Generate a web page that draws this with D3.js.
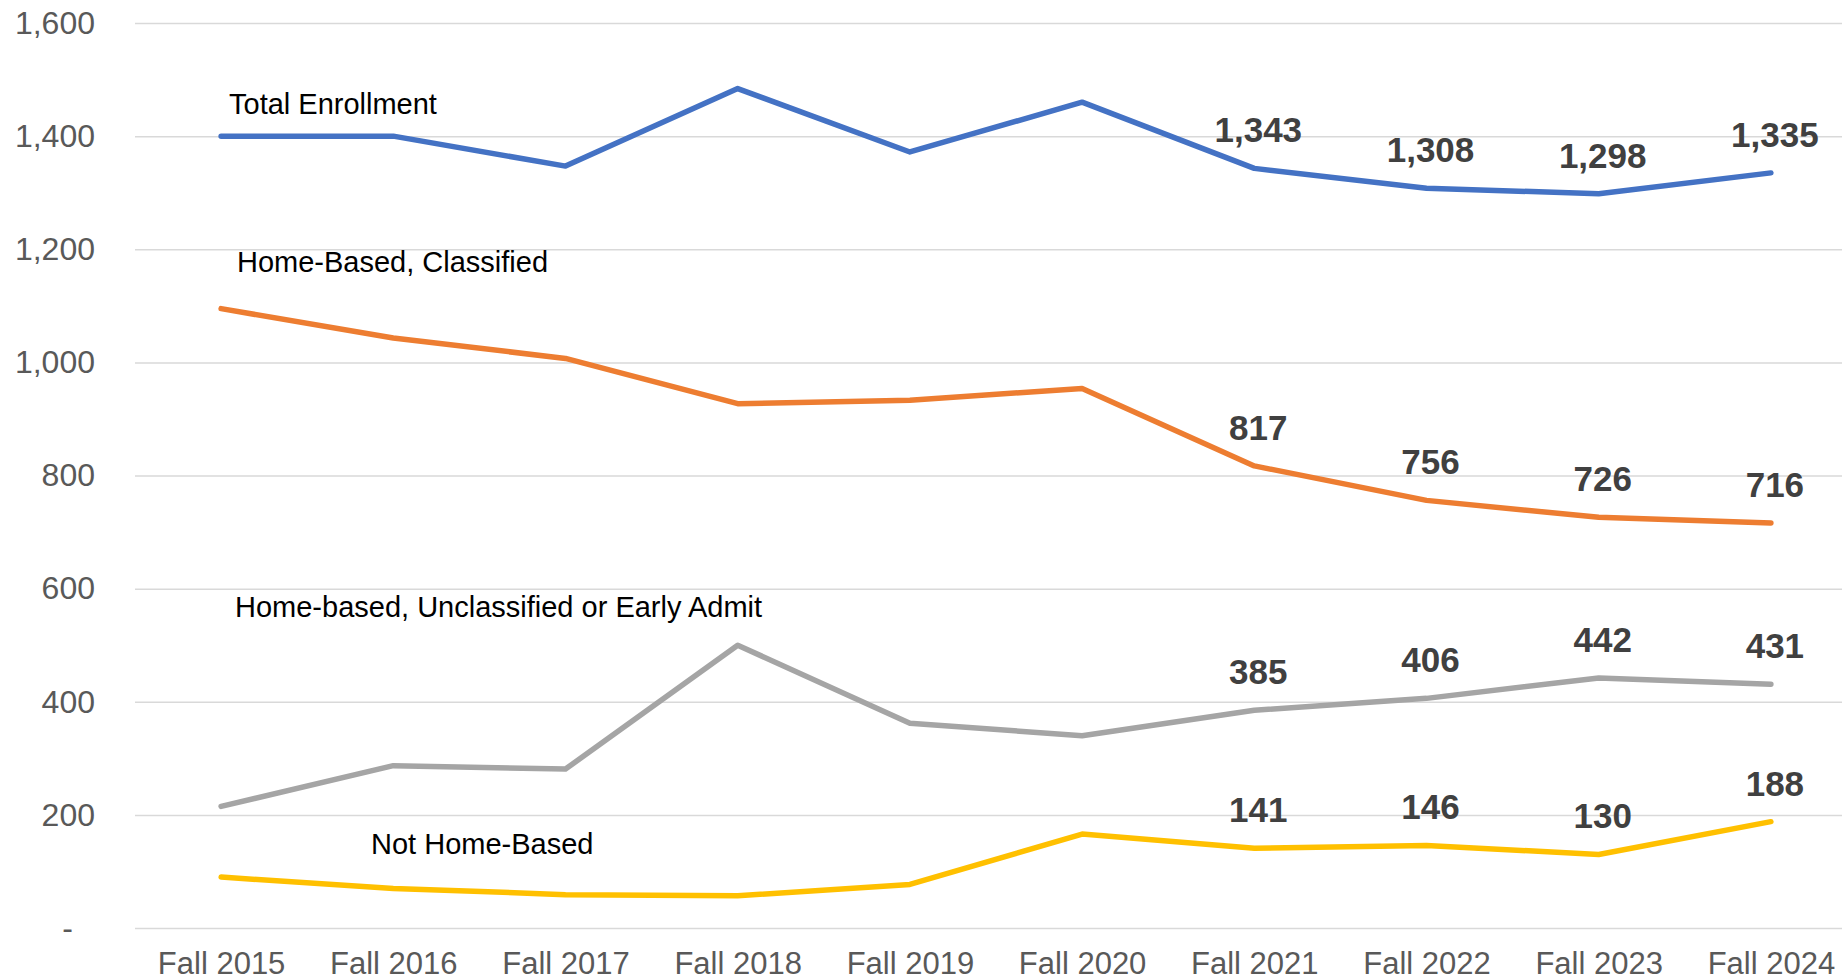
<!DOCTYPE html>
<html>
<head>
<meta charset="utf-8">
<script src="https://cdn.jsdelivr.net/npm/d3@7"></script>
<style>
  body { margin: 0; background: #fff; }
  svg { display: block; font-family: "Liberation Sans", Arial, sans-serif; }
</style>
</head>
<body>
<div id="chart"></div>
<script>
var W = 1842, H = 980;

// data
var years = ["Fall 2015", "Fall 2016", "Fall 2017", "Fall 2018", "Fall 2019",
             "Fall 2020", "Fall 2021", "Fall 2022", "Fall 2023", "Fall 2024"];
var totalEnrollment = [1400, 1400, 1347, 1484, 1372, 1460, 1343, 1308, 1298, 1335];
var homeClassified  = [1095, 1043, 1007, 927, 933, 954, 817, 756, 726, 716];
var homeUnclassified = [215, 287, 281, 500, 362, 340, 385, 406, 442, 431];
var notHomeBased    = [90, 70, 59, 57, 77, 166, 141, 146, 130, 188];
var seriesNames = ["Total Enrollment", "Home-Based, Classified",
                   "Home-based, Unclassified or Early Admit", "Not Home-Based"];
var yTicks = [0, 200, 400, 600, 800, 1000, 1200, 1400, 1600];
var labelFrom = 6; // data labels only shown from Fall 2021 on

var colors = ["#4472C4", "#ED7D31", "#A5A5A5", "#FFC000"];
var allSeries = [totalEnrollment, homeClassified, homeUnclassified, notHomeBased];

var margin = {top: 23, left: 135, bottom: 52};
var svg = d3.select("#chart").append("svg")
    .attr("width", W)
    .attr("height", H);

var x = d3.scalePoint()
    .domain(years)
    .range([margin.left, 1857])
    .padding(0.5);

var y = d3.scaleLinear()
    .domain([0, 1600])
    .range([H - margin.bottom, margin.top]);

var fmt = d3.format(",");

// gridlines + y labels
var yAxis = svg.append("g")
    .attr("transform", "translate(" + margin.left + ",0)")
    .call(d3.axisLeft(y)
        .tickValues(yTicks)
        .tickSize(-(W - margin.left + 20))
        .tickPadding(40)
        .tickFormat(function(d) { return d === 0 ? "-" : fmt(d); }));
yAxis.select(".domain").remove();
yAxis.selectAll("line")
    .attr("stroke", "#D9D9D9")
    .attr("stroke-width", 1.5);
yAxis.selectAll("text")
    .attr("fill", "#595959")
    .style("font-size", "32px")
    .attr("dx", function(d) { return d === 0 ? -22 : 0; });

// x labels
var xAxis = svg.append("g")
    .attr("transform", "translate(0," + (H - margin.bottom) + ")")
    .call(d3.axisBottom(x).tickSize(0).tickPadding(24));
xAxis.select(".domain").remove();
xAxis.selectAll("text")
    .attr("fill", "#595959")
    .style("font-size", "31px");

// lines
var line = d3.line()
    .x(function(d, i) { return x(years[i]); })
    .y(function(d) { return y(d); });

svg.selectAll(".series")
    .data(allSeries)
    .enter()
    .append("path")
      .attr("class", "series")
      .attr("d", line)
      .attr("fill", "none")
      .attr("stroke", function(d, i) { return colors[i]; })
      .attr("stroke-width", 5.5)
      .attr("stroke-linejoin", "round")
      .attr("stroke-linecap", "round");

// data labels
allSeries.forEach(function(vals) {
  svg.selectAll(null)
    .data(vals.slice(labelFrom))
    .enter()
    .append("text")
      .attr("x", function(d, i) {
        var px = x(years[i + labelFrom]);
        return px + 4 > W - 45 ? W - 45 : px + 4;  // keep wide labels inside
      })
      .attr("y", function(d) { return y(d) - 26; })
      .attr("text-anchor", "middle")
      .attr("fill", "#404040")
      .style("font-size", "35px")
      .style("font-weight", "bold")
      .text(function(d) { return fmt(d); });
});

// series name labels
var nameX = [229, 237, 235, 371];
var nameY = [y(1400) - 22, y(1200) + 23, y(600) + 28, y(200) + 39];
svg.selectAll(".name")
    .data(seriesNames)
    .enter()
    .append("text")
      .attr("class", "name")
      .attr("x", function(d, i) { return nameX[i]; })
      .attr("y", function(d, i) { return nameY[i]; })
      .attr("fill", "#000")
      .style("font-size", "29px")
      .text(function(d) { return d; });
</script>
</body>
</html>
